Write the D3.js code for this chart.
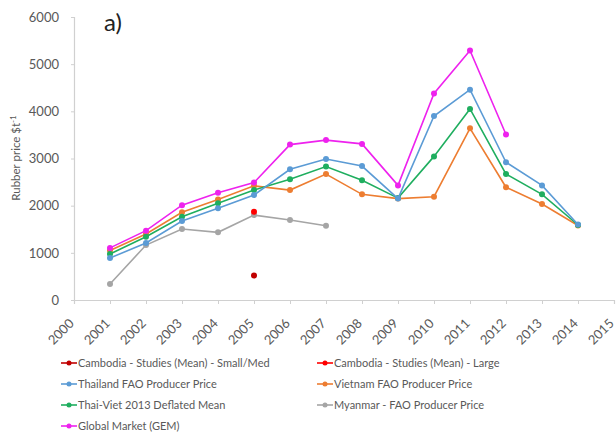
<!DOCTYPE html>
<html><head><meta charset="utf-8">
<script src="https://cdn.jsdelivr.net/npm/d3@7"></script>
<style>body{margin:0;background:#fff;} text{font-family:Lato,"Open Sans",sans-serif;}</style>
</head><body><svg id="c" width="616" height="435"></svg>
<script>
const years = [2001,2002,2003,2004,2005,2006,2007,2008,2009,2010,2011,2012,2013,2014];
const xTicks = [2000,2001,2002,2003,2004,2005,2006,2007,2008,2009,2010,2011,2012,2013,2014,2015];
const yTicks = [0,1000,2000,3000,4000,5000,6000];
const cambodiaSmall = [null,null,null,null,520,null,null,null,null,null,null,null,null,null];
const cambodiaLarge = [null,null,null,null,1870,null,null,null,null,null,null,null,null,null];
const thailand = [890,1210,1675,1945,2225,2770,2990,2840,2150,3900,4460,2920,2430,1600];
const vietnam = [1050,1400,1860,2130,2420,2330,2670,2240,2150,2190,3640,2390,2035,1580];
const thaiViet = [975,1340,1765,2050,2330,2560,2830,2540,2160,3045,4050,2670,2240,1590];
const myanmar = [340,1165,1505,1435,1800,1695,1575,null,null,null,null,null,null,null];
const globalGem = [1105,1470,2010,2275,2490,3295,3390,3310,2430,4380,5290,3510,null,null];

const series = [
  {name:"Cambodia - Studies (Mean) - Small/Med", values:cambodiaSmall, color:"#c00000"},
  {name:"Cambodia - Studies (Mean) - Large", values:cambodiaLarge, color:"#ff0000"},
  {name:"Thailand FAO Producer Price", values:thailand, color:"#5b9bd5"},
  {name:"Vietnam FAO Producer Price", values:vietnam, color:"#ed7d31"},
  {name:"Thai-Viet 2013 Deflated Mean", values:thaiViet, color:"#1fae5f"},
  {name:"Myanmar - FAO Producer Price", values:myanmar, color:"#a5a5a5"},
  {name:"Global Market (GEM)", values:globalGem, color:"#ee22ee"}
];
const drawOrder = [5,3,4,2,6,1,0];

const svg = d3.select("#c");
const x = d3.scaleLinear().domain([2000,2015]).range([74,614]);
const y = d3.scaleLinear().domain([0,6000]).range([300,17]);
const axisCol = "#d0d0d0", txtCol = "#595959";

// axes
const gy = svg.append("g").attr("transform","translate(74,0)")
  .call(d3.axisLeft(y).tickValues(yTicks).tickSize(3).tickPadding(12).tickFormat(d3.format("d")));
const gx = svg.append("g").attr("transform","translate(0,300)")
  .call(d3.axisBottom(x).tickValues(xTicks).tickSize(4).tickFormat(d3.format("d")));
[gy,gx].forEach(g=>{
  g.select(".domain").attr("stroke",axisCol).attr("stroke-width",1.2);
  g.selectAll(".tick line").attr("stroke",axisCol);
  g.selectAll("text").style("fill",txtCol).style("font-size","13px").style("font-family","Lato,sans-serif");
});
gx.selectAll("text").attr("text-anchor","end").attr("dy","0.35em")
  .attr("transform","translate(-3,21) rotate(-45)").attr("y",0).attr("x",0);

// y label
svg.append("text").attr("transform","translate(20,158) rotate(-90)").attr("text-anchor","middle")
  .style("fill",txtCol).style("font-size","11.5px")
  .html('Rubber price $t<tspan dy="-4" font-size="8">-1</tspan>');

// title
svg.append("text").attr("x",104).attr("y",31).style("fill","#222").style("font-size","24px").text("a)");

// lines
const line = d3.line().defined(d=>d.v!=null).x(d=>x(d.yr)).y(d=>y(d.v));
drawOrder.forEach(i=>{
  const s = series[i];
  const pts = years.map((yr,j)=>({yr, v:s.values[j]}));
  svg.append("path").datum(pts).attr("d",line).attr("fill","none")
    .attr("stroke",s.color).attr("stroke-width",1.6);
  svg.append("g").selectAll("circle").data(pts.filter(d=>d.v!=null)).join("circle")
    .attr("cx",d=>x(d.yr)).attr("cy",d=>y(d.v)).attr("r",3).attr("fill",s.color);
});

// legend
const lg = svg.append("g");
series.forEach((s,i)=>{
  const col = i<6 ? i%2 : 0;
  const row = Math.floor(i/2);
  const lx = col===0 ? 61 : 317, ly = 363 + row*21;
  lg.append("line").attr("x1",lx).attr("x2",lx+16).attr("y1",ly).attr("y2",ly)
    .attr("stroke",s.color).attr("stroke-width",1.6);
  lg.append("circle").attr("cx",lx+8).attr("cy",ly).attr("r",2.5).attr("fill",s.color);
  lg.append("text").attr("x",lx+17).attr("y",ly).attr("dy","0.35em")
    .style("fill",txtCol).style("font-size","11px").text(s.name);
});
</script></body></html>
